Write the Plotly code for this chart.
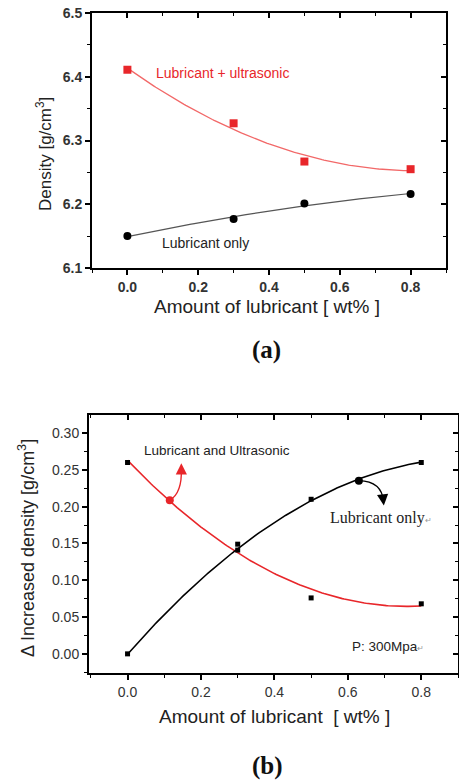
import numpy as np
import plotly.graph_objects as go

W, H = 459, 783

# ---------------- data ----------------
# Panel (a)
a_x = [0.0, 0.3, 0.5, 0.8]
a_ultra = [6.411, 6.327, 6.267, 6.255]
a_only = [6.150, 6.177, 6.201, 6.216]
a_xticks = [0.0, 0.2, 0.4, 0.6, 0.8]
a_yticks = [6.1, 6.2, 6.3, 6.4, 6.5]

# Panel (b)
b_x = [0.0, 0.3, 0.5, 0.8]
b_ultra = [0.260, 0.149, 0.076, 0.068]
b_only = [0.000, 0.141, 0.210, 0.260]
b_xticks = [0.0, 0.2, 0.4, 0.6, 0.8]
b_yticks = [0.00, 0.05, 0.10, 0.15, 0.20, 0.25, 0.30]
b_mark_ultra = (0.115, 0.2086)
b_mark_only = (0.630, 0.2353)

RED = "#e8262a"
LRED = "#f26868"
SANS = "Arial, Liberation Sans, sans-serif"
SERIF = "Times New Roman, Liberation Serif, serif"

def px(x):
    return x / W

def py(y):
    return 1 - y / H

def fit(xv, yv, deg=2):
    c = np.polyfit(xv, yv, deg)
    xs = np.linspace(min(xv), max(xv), 161)
    return xs, np.polyval(c, xs)

fig = go.Figure()

# ---------------- panel (a) ----------------
xs, ys = fit(a_x, a_ultra)
fig.add_trace(go.Scatter(x=xs, y=ys, mode="lines", line=dict(color=LRED, width=1.3),
                         xaxis="x", yaxis="y", showlegend=False, hoverinfo="skip"))
xs, ys = fit(a_x, a_only)
fig.add_trace(go.Scatter(x=xs, y=ys, mode="lines", line=dict(color="#555555", width=1.2),
                         xaxis="x", yaxis="y", showlegend=False, hoverinfo="skip"))
fig.add_trace(go.Scatter(x=a_x, y=a_ultra, mode="markers",
                         marker=dict(symbol="square", size=8, color=RED),
                         xaxis="x", yaxis="y", showlegend=False))
fig.add_trace(go.Scatter(x=a_x, y=a_only, mode="markers",
                         marker=dict(symbol="circle", size=8, color="black"),
                         xaxis="x", yaxis="y", showlegend=False))

# ---------------- panel (b) ----------------
xs, ys = fit(b_x, b_ultra)
fig.add_trace(go.Scatter(x=xs, y=ys, mode="lines", line=dict(color=RED, width=1.6),
                         xaxis="x2", yaxis="y2", showlegend=False, hoverinfo="skip"))
xs, ys = fit(b_x, b_only)
fig.add_trace(go.Scatter(x=xs, y=ys, mode="lines", line=dict(color="black", width=1.6),
                         xaxis="x2", yaxis="y2", showlegend=False, hoverinfo="skip"))
fig.add_trace(go.Scatter(x=b_x + b_x, y=b_ultra + b_only, mode="markers",
                         marker=dict(symbol="square", size=5, color="black"),
                         xaxis="x2", yaxis="y2", showlegend=False))
fig.add_trace(go.Scatter(x=[b_mark_ultra[0]], y=[b_mark_ultra[1]], mode="markers",
                         marker=dict(symbol="circle", size=8, color=RED),
                         xaxis="x2", yaxis="y2", showlegend=False))
fig.add_trace(go.Scatter(x=[b_mark_only[0]], y=[b_mark_only[1]], mode="markers",
                         marker=dict(symbol="circle", size=8, color="black"),
                         xaxis="x2", yaxis="y2", showlegend=False))

# invisible traces to host the mirrored (inside-tick) axes
fig.add_trace(go.Scatter(x=a_x, y=a_only, mode="markers", marker=dict(opacity=0),
                         xaxis="x3", yaxis="y3", showlegend=False, hoverinfo="skip"))
fig.add_trace(go.Scatter(x=b_x, y=b_only, mode="markers", marker=dict(opacity=0),
                         xaxis="x4", yaxis="y4", showlegend=False, hoverinfo="skip"))

a_xdom = [px(92), px(446)]
a_ydom = [py(268), py(13)]
b_xdom = [px(89), px(458)]
b_ydom = [py(673), py(415)]
a_xr = [-0.1, 0.9]
a_yr = [6.1, 6.5]
b_xr = [-0.105, 0.9]
b_yr = [-0.026, 0.3245]

a_tickfont = dict(family=SANS, size=14, color="#333333", weight="bold")
b_tickfont = dict(family=SANS, size=14, color="#333333")

def main_axis(dom, rng, tickvals, fmt, anchor, font, minor_dtick, side):
    return dict(domain=dom, range=rng, anchor=anchor, side=side, automargin=False,
                tickmode="array", tickvals=tickvals, ticktext=[fmt.format(v) for v in tickvals],
                ticks="outside", ticklen=5, tickwidth=1.5, tickcolor="black",
                minor=dict(ticks="outside", ticklen=3, tickwidth=1.2, tickcolor="black",
                           dtick=minor_dtick, tick0=0, showgrid=False),
                showline=True, linecolor="black", linewidth=2, showgrid=False,
                zeroline=False, tickfont=font, fixedrange=True)

def mirror_axis(rng, overlay, anchor, side, dtick, minor_dtick):
    return dict(range=rng, overlaying=overlay, anchor=anchor, side=side, automargin=False,
                tickmode="linear", tick0=0, dtick=dtick,
                ticks="inside", ticklen=5, tickwidth=1.5, tickcolor="black",
                minor=dict(ticks="inside", ticklen=3, tickwidth=1.2, tickcolor="black",
                           dtick=minor_dtick, tick0=0, showgrid=False),
                showticklabels=False, showline=True, linecolor="black", linewidth=2,
                showgrid=False, zeroline=False, fixedrange=True)

layout = dict(
    width=W, height=H, margin=dict(l=0, r=0, t=0, b=0, autoexpand=False),
    paper_bgcolor="white", plot_bgcolor="white", showlegend=False,
    xaxis=main_axis(a_xdom, a_xr, a_xticks, "{:.1f}", "y", a_tickfont, 0.1, "bottom"),
    yaxis=main_axis(a_ydom, a_yr, a_yticks, "{:.1f}", "x", a_tickfont, 0.05, "left"),
    xaxis2=main_axis(b_xdom, b_xr, b_xticks, "{:.1f}", "y2", b_tickfont, 0.1, "bottom"),
    yaxis2=main_axis(b_ydom, b_yr, b_yticks, "{:.2f}", "x2", b_tickfont, 0.025, "left"),
    xaxis3=mirror_axis(a_xr, "x", "y3", "top", 0.2, 0.1),
    yaxis3=mirror_axis(a_yr, "y", "x3", "right", 0.1, 0.05),
    xaxis4=mirror_axis(b_xr, "x2", "y4", "top", 0.2, 0.1),
    yaxis4=mirror_axis(b_yr, "y2", "x4", "right", 0.05, 0.025),
)
fig.update_layout(**layout)

def label(x, y, text, font, xref="paper", yref="paper", angle=0):
    return dict(x=x, y=y, xref=xref, yref=yref, text=text, showarrow=False,
                xanchor="center", yanchor="middle", textangle=angle, font=font)

ann = []
# panel (a) labels
ann.append(label(0.2676, 6.406, "Lubricant + ultrasonic",
                 dict(family=SANS, size=14, color=RED), "x", "y"))
ann.append(label(0.2197, 6.139, "Lubricant only",
                 dict(family=SANS, size=14, color="#222222"), "x", "y"))
ann.append(label(px(44), py(154), "Density [g/cm<sup>3</sup>]",
                 dict(family=SANS, size=17, color="#222222"), angle=-90))
ann.append(label(px(267), py(306), "Amount of lubricant [ wt% ]",
                 dict(family=SANS, size=19, color="#222222")))
ann.append(label(px(266), py(350), "<b>(a)</b>",
                 dict(family=SERIF, size=25, color="#111111")))

# panel (b) labels
ann.append(label(0.243, 0.2758, "Lubricant and Ultrasonic",
                 dict(family=SANS, size=13.5, color="#222222"), "x2", "y2"))
ann.append(label(0.689, 0.1848,
                 "Lubricant only<span style='font-size:8px;color:#999'>↵</span>",
                 dict(family=SERIF, size=16, color="#222222"), "x2", "y2"))
ann.append(label(0.708, 0.0095,
                 "P: 300Mpa<span style='font-size:8px;color:#999'>↵</span>",
                 dict(family=SANS, size=13.5, color="#222222"), "x2", "y2"))
ann.append(label(px(26), py(548), "Δ Increased density [g/cm<sup>3</sup>]",
                 dict(family=SANS, size=18, color="#222222"), angle=-90))
ann.append(label(px(274), py(716), "Amount of lubricant  [ wt% ]",
                 dict(family=SANS, size=19, color="#222222")))
ann.append(label(px(267), py(766), "<b>(b)</b>",
                 dict(family=SERIF, size=25, color="#111111")))

# arrowheads for the curved pointers
ann.append(dict(x=0.1465, y=0.259, xref="x2", yref="y2", ax=0, ay=9, axref="pixel", ayref="pixel",
                text="", showarrow=True, arrowhead=2, arrowsize=1.6, arrowwidth=1.4,
                arrowcolor=RED))
ann.append(dict(x=0.698, y=0.2014, xref="x2", yref="y2", ax=-1, ay=-9, axref="pixel", ayref="pixel",
                text="", showarrow=True, arrowhead=2, arrowsize=1.6, arrowwidth=1.4,
                arrowcolor="black"))
fig.update_layout(annotations=ann)

# curved pointer bodies
fig.add_shape(type="path", xref="x2", yref="y2",
              path=f"M {b_mark_ultra[0]},{b_mark_ultra[1]} Q 0.149,0.2186 0.1465,0.252",
              line=dict(color=RED, width=1.4))
fig.add_shape(type="path", xref="x2", yref="y2",
              path=f"M {b_mark_only[0]},{b_mark_only[1]} Q 0.693,0.2344 0.697,0.207",
              line=dict(color="black", width=1.4))

fig.write_html("out.html", config={"displayModeBar": False},
               post_script="document.body.style.margin='0';document.body.style.overflow='hidden';")
